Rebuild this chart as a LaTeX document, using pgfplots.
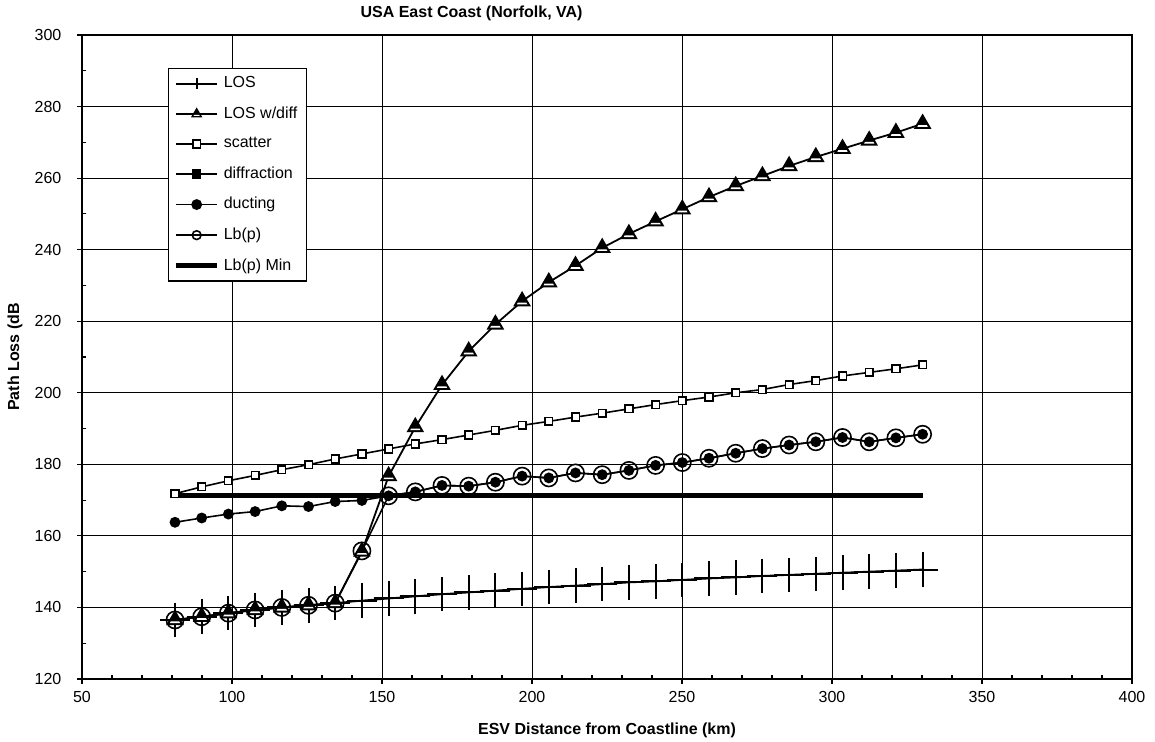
\documentclass[border=0pt]{standalone}
\usepackage{fontspec}
\setmainfont{Liberation Sans}
\usepackage{pgfplots}
\usepackage{pgfplotstable}
\pgfplotsset{compat=1.18}

% triangle drawn dark with a light band near the base, as in the scan
\pgfdeclareplotmark{tristrip}{%
  \pgfpathmoveto{\pgfqpointpolar{90}{\pgfplotmarksize}}%
  \pgfpathlineto{\pgfqpointpolar{210}{\pgfplotmarksize}}%
  \pgfpathlineto{\pgfqpointpolar{-30}{\pgfplotmarksize}}%
  \pgfpathclose
  \pgfsetfillcolor{black}%
  \pgfusepathqfillstroke
  \pgfpathmoveto{\pgfpoint{-0.50\pgfplotmarksize}{-0.17\pgfplotmarksize}}%
  \pgfpathlineto{\pgfpoint{0.50\pgfplotmarksize}{-0.17\pgfplotmarksize}}%
  \pgfpathlineto{\pgfpoint{0.60\pgfplotmarksize}{-0.36\pgfplotmarksize}}%
  \pgfpathlineto{\pgfpoint{-0.60\pgfplotmarksize}{-0.36\pgfplotmarksize}}%
  \pgfpathclose
  \pgfsetfillcolor{white}%
  \pgfusepathqfill
}

% d = ESV distance (km), path losses in dB
\pgfplotstableread{
d     los    losdiff scat   duct   lbp
81.0  136.5  136.5   171.8  163.8  136.5
89.9  137.4  137.4   173.7  165.0  137.4
98.8  138.4  138.4   175.4  166.1  138.4
107.7 139.3  139.3   176.9  166.8  139.3
116.6 140.0  140.0   178.5  168.4  140.0
125.5 140.6  140.6   179.9  168.2  140.6
134.4 141.2  141.2   181.5  169.6  141.2
143.3 141.9  155.6   182.9  169.9  155.8
152.2 142.5  176.7   184.3  171.2  171.2
161.1 143.1  190.4   185.7  172.3  172.3
170.0 143.7  202.2   186.9  174.1  174.1
178.9 144.2  211.6   188.2  173.9  173.9
187.8 144.7  219.1   189.5  175.0  175.0
196.7 145.2  225.6   190.9  176.7  176.7
205.6 145.7  230.9   192.0  176.2  176.2
214.5 146.1  235.5   193.2  177.6  177.6
223.4 146.5  240.5   194.3  177.1  177.1
232.3 147.0  244.4   195.5  178.3  178.3
241.2 147.3  247.9   196.7  179.7  179.7
250.1 147.7  251.3   197.8  180.5  180.5
259.0 148.1  254.7   198.8  181.7  181.7
267.9 148.4  257.8   200.0  183.1  183.1
276.8 148.8  260.6   200.9  184.4  184.4
285.7 149.1  263.4   202.3  185.4  185.4
294.6 149.4  265.9   203.4  186.3  186.3
303.5 149.7  268.2   204.7  187.5  187.5
312.4 150.0  270.5   205.7  186.3  186.3
321.3 150.3  272.7   206.7  187.4  187.4
330.2 150.6  275.2   207.8  188.4  188.4
}\pathloss

\begin{document}
\begin{tikzpicture}[font=\fontsize{8}{9.6}\selectfont]
\useasboundingbox (-41pt,-31.5pt) rectangle (536.5pt,339.5pt);
\begin{axis}[
  scale only axis, width=525pt, height=322pt,
  xmin=50, xmax=400, ymin=120, ymax=300,
  xtick={50,100,...,400}, ytick={120,140,...,300},
  minor x tick num=4, minor y tick num=1,
  tick pos=left,
  tick align=inside, major tick length=-2.5pt, minor tick length=2pt,
  tick style={black, line width=0.6pt},
  grid=major, major grid style={black, line width=0.5pt},
  axis line style={line width=0.9pt},
  /pgf/number format/assume math mode=true,
  tick label style={font=\fontsize{8}{9.6}\selectfont},
  xticklabel style={yshift=-2.5pt},
  yticklabel style={xshift=-6.8pt},
  title={USA East Coast (Norfolk, VA)},
  title style={at={(axis description cs:0.371,1.0155)}, anchor=center, font=\bfseries\fontsize{8}{9.6}\selectfont},
  xlabel={ESV Distance from Coastline (km)},
  xlabel style={at={(axis description cs:0.5,-0.0792)}, anchor=center, font=\bfseries\fontsize{8}{9.6}\selectfont},
  ylabel={Path Loss (dB},
  ylabel style={at={(axis description cs:-0.0638,0.5)}, anchor=center, font=\bfseries\fontsize{8}{9.6}\selectfont},
  legend cell align=left,
  legend style={at={(0.0819,0.9488)}, anchor=north west, draw=black, line width=0.6pt,
    font=\fontsize{8}{9.6}\selectfont, row sep=4pt, inner xsep=2.5pt, inner ysep=2pt},
  legend image code/.code={\draw[mark repeat=2, mark phase=2]
    plot coordinates {(0cm,0cm) (0.36cm,0cm) (0.72cm,0cm)};},
]
\addplot[black, line width=0.9pt, mark=+, mark size=7.5pt, mark options={yscale=1.15, line width=1pt},
  legend image post style={mark size=2.4pt}]
  table[x=d, y=los] {\pathloss};
\addlegendentry{LOS}
\addplot[black, line width=0.9pt, mark=tristrip, mark size=4.3pt, mark options={solid, line width=0.8pt},
  legend image post style={mark size=2.5pt}]
  table[x=d, y=losdiff] {\pathloss};
\addlegendentry{LOS w/diff}
\addplot[black, line width=0.8pt, mark=square*, mark size=1.9pt, mark options={fill=white}]
  table[x=d, y=scat] {\pathloss};
\addlegendentry{scatter}
\addlegendimage{black, line width=0.8pt, mark=square*, mark size=1.9pt}
\addlegendentry{diffraction}
\addplot[black, line width=0.8pt, mark=*, mark size=2.3pt]
  table[x=d, y=duct] {\pathloss};
\addlegendentry{ducting}
\addplot[black, line width=0.8pt, mark=o, mark size=4.3pt, legend image post style={mark size=2.2pt}]
  table[x=d, y=lbp] {\pathloss};
\addlegendentry{Lb(p)}
\addplot[black, line width=2.6pt] coordinates {(81.0,171.3) (330.2,171.3)};
\addlegendentry{Lb(p) Min}
\end{axis}
\end{tikzpicture}
\end{document}
